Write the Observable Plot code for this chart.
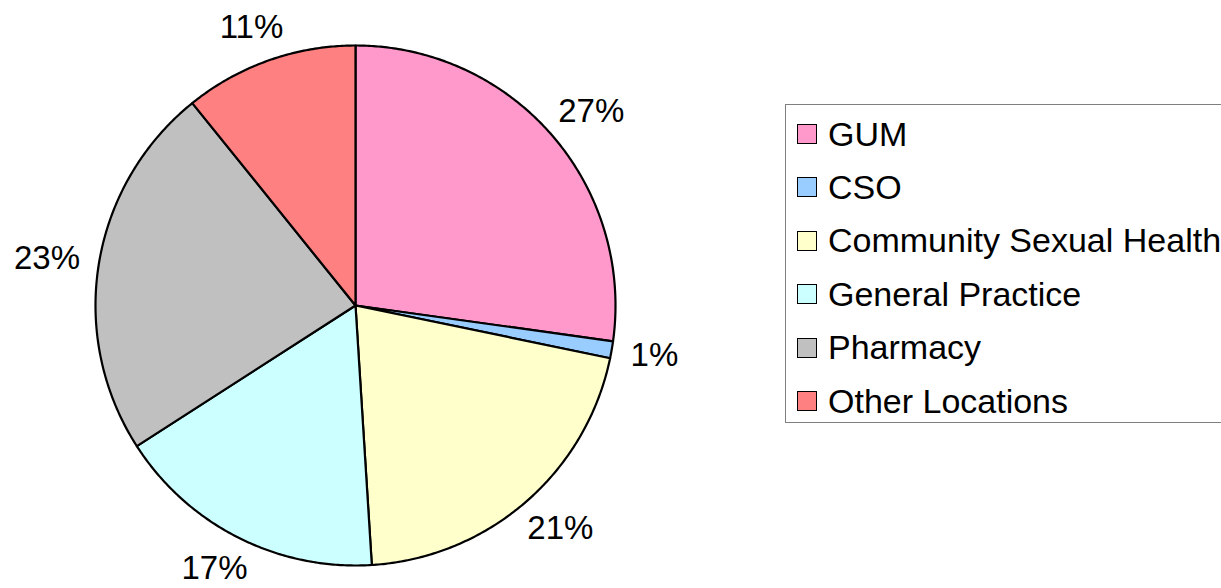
<!DOCTYPE html>
<html>
<head>
<meta charset="utf-8">
<script src="https://cdn.jsdelivr.net/npm/d3@7"></script>
<script src="https://cdn.jsdelivr.net/npm/@observablehq/plot@0.6"></script>
<style>
  html, body { margin: 0; padding: 0; background: #fff; overflow: hidden; }
  #wrap { position: relative; width: 1221px; height: 588px; font-family: "Liberation Sans", Arial, sans-serif; }
  #legend { position: absolute; left: 785px; top: 104px; width: 470px; height: 319px;
            border: 1px solid #7f7f7f; box-sizing: border-box; }
  .item { position: absolute; left: 11px; height: 40px; display: flex; align-items: center; white-space: nowrap;
          font-size: 34px; color: #000; }
  .sw { width: 18px; height: 18px; border: 1.5px solid #000; margin-right: 11px; box-sizing: content-box; }
</style>
</head>
<body>
<div id="wrap"><div id="chart"></div><div id="legend"></div></div>
<script>
// ---- data ----
const categories = ["GUM", "CSO", "Community Sexual Health", "General Practice", "Pharmacy", "Other Locations"];
const values = [27.2, 1.05, 20.75, 16.9, 23.3, 10.8];
const labels = ["27%", "1%", "21%", "17%", "23%", "11%"];
const colors = ["#FF99CC", "#99CCFF", "#FFFFCC", "#CCFFFF", "#C0C0C0", "#FF8080"];

// ---- layout ----
const W = 1221, H = 588, cx = 355, cy = 305, R = 260;
const fontSize = 33;

const pie = d3.pie().sort(null).value(d => d.value).startAngle(0).endAngle(2 * Math.PI);
const rows = categories.map((name, i) => ({name, value: values[i], label: labels[i]}));
const arcs = pie(rows);

// polygon points for each wedge in unit-circle coordinates
const pts = [];
for (const a of arcs) {
  const name = a.data.name;
  pts.push({name, x: 0, y: 0});
  const n = Math.max(2, Math.ceil((a.endAngle - a.startAngle) / (Math.PI / 360)));
  for (let k = 0; k <= n; k++) {
    const t = a.startAngle + (a.endAngle - a.startAngle) * k / n;
    pts.push({name, x: Math.sin(t), y: Math.cos(t)});
  }
  pts.push({name, x: 0, y: 0});
}

// label positions: outside the wedge mid-angle, pushed out by half the text width
const charW = ch => ch === "%" ? 0.889 : 0.556;
const labPts = arcs.map(a => {
  const m = (a.startAngle + a.endAngle) / 2;
  const halfW = d3.sum([...a.data.label], charW) * fontSize / 2;
  const rx = (R * 1.075 + halfW) / R;
  const ry = 295 / R;
  return {text: a.data.label, x: rx * Math.sin(m), y: ry * Math.cos(m)};
});

const chart = Plot.plot({
  width: W, height: H,
  marginTop: 0, marginRight: 0, marginBottom: 0, marginLeft: 0,
  x: {domain: [-cx / R, (W - cx) / R], axis: null},
  y: {domain: [-(H - cy) / R, cy / R], axis: null},
  color: {type: "ordinal", domain: categories, range: colors},
  style: {fontFamily: '"Liberation Sans", Arial, sans-serif', background: "#fff"},
  marks: [
    Plot.line(pts, {x: "x", y: "y", z: "name", fill: "name", stroke: "#000", strokeWidth: 2.2, strokeLinejoin: "round", curve: "linear"}),
    Plot.text(labPts, {x: "x", y: "y", text: "text", fontSize, fill: "#000", textAnchor: "middle", lineAnchor: "middle"})
  ]
});
document.getElementById("chart").appendChild(chart);

// legend
const lg = document.getElementById("legend");
const pitch = 53.4;
categories.forEach((c, i) => {
  const it = document.createElement("div");
  it.className = "item";
  it.style.top = (9 + i * pitch) + "px";
  const sw = document.createElement("span");
  sw.className = "sw";
  sw.style.background = colors[i];
  const tx = document.createElement("span");
  tx.textContent = c;
  it.appendChild(sw); it.appendChild(tx);
  lg.appendChild(it);
});
</script>
</body>
</html>
